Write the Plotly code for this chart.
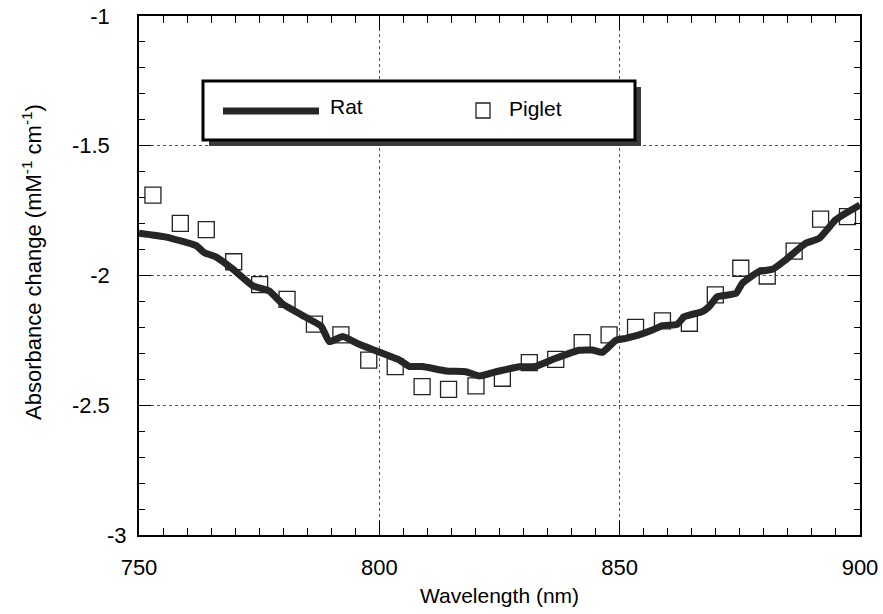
import plotly.graph_objects as go

# Rat (solid thick curve)
rat_wl = [750, 755.7, 761.9, 763.6, 766, 769.5, 773.7, 777.1, 779.9, 784.8, 787.9, 789.6,
          792.4, 795.8, 799.3, 804.2, 806.2, 809, 813.9, 818, 820.8, 824.3, 829.1, 832.6,
          836.7, 841.6, 844.3, 846.4, 849.2, 851.3, 854, 856.8, 858.9, 862, 863.4, 867.2,
          868.6, 870.3, 874.2, 875.5, 879, 881.8, 884.5, 888.7, 891.5, 894.9, 897, 900]
rat_val = [-1.837, -1.852, -1.885, -1.912, -1.928, -1.975, -2.040, -2.060, -2.110, -2.162,
           -2.195, -2.255, -2.235, -2.265, -2.290, -2.326, -2.350, -2.351, -2.368, -2.371,
           -2.387, -2.371, -2.352, -2.350, -2.319, -2.288, -2.287, -2.296, -2.250, -2.242,
           -2.229, -2.210, -2.193, -2.188, -2.159, -2.139, -2.120, -2.082, -2.069, -2.030,
           -1.985, -1.976, -1.940, -1.876, -1.857, -1.786, -1.760, -1.728]

# Piglet (open squares)
piglet_wl = [752.9, 758.6, 764.0, 769.7, 775.1, 780.8, 786.5, 792.0, 797.8, 803.3, 808.9,
             814.4, 820.1, 825.6, 831.2, 836.7, 842.2, 847.8, 853.3, 858.9, 864.5, 869.9,
             875.2, 880.7, 886.3, 891.8, 897.4]
piglet_val = [-1.690, -1.799, -1.823, -1.947, -2.035, -2.092, -2.187, -2.229, -2.326, -2.351,
              -2.428, -2.439, -2.425, -2.396, -2.336, -2.323, -2.259, -2.229, -2.200, -2.175,
              -2.184, -2.075, -1.972, -2.002, -1.906, -1.783, -1.773]

x_tick_vals = [750, 800, 850, 900]
x_tick_text = ["750", "800", "850", "900"]
y_tick_vals = [-3, -2.5, -2, -1.5, -1]
y_tick_text = ["-3", "-2.5", "-2", "-1.5", "-1"]

FONT = "Liberation Sans, Arial, sans-serif"

fig = go.Figure()
fig.add_trace(go.Scatter(x=piglet_wl, y=piglet_val, mode="markers", name="Piglet",
                         marker=dict(symbol="square-open", size=16, color="#222",
                                     line=dict(width=1.3, color="#222"))))
fig.add_trace(go.Scatter(x=rat_wl, y=rat_val, mode="lines", name="Rat",
                         line=dict(color="#262626", width=7, shape="spline", smoothing=0.4)))

W, H = 883, 614
L, R, T, B = 139, 23, 16, 79
pw, ph = W - L - R, H - T - B


def px(x):
    return (x - L) / pw


def py(y):
    return (H - B - y) / ph


# Custom legend box with drop shadow
bx0, bx1, by0, by1 = 203, 635, 81, 140
sh = 6
fig.add_shape(type="rect", xref="paper", yref="paper",
              x0=px(bx0 + sh), x1=px(bx1 + sh), y0=py(by1 + sh), y1=py(by0 + sh),
              fillcolor="#3a3a3a", line=dict(width=0), layer="above")
fig.add_shape(type="rect", xref="paper", yref="paper",
              x0=px(bx0), x1=px(bx1), y0=py(by1), y1=py(by0),
              fillcolor="white", line=dict(color="black", width=3), layer="above")
fig.add_shape(type="line", xref="paper", yref="paper",
              x0=px(223), x1=px(319), y0=py(111), y1=py(111),
              line=dict(color="#262626", width=7), layer="above")
fig.add_shape(type="rect", xref="paper", yref="paper",
              x0=px(476), x1=px(490), y0=py(118), y1=py(103),
              line=dict(color="#222", width=1.3), fillcolor="white", layer="above")
fig.add_annotation(xref="paper", yref="paper", x=px(328), y=py(106), text="Rat",
                   showarrow=False, xanchor="left", yanchor="middle",
                   font=dict(family=FONT, size=21, color="black"))
fig.add_annotation(xref="paper", yref="paper", x=px(507), y=py(109), text="Piglet",
                   showarrow=False, xanchor="left", yanchor="middle",
                   font=dict(family=FONT, size=21, color="black"))

# Y axis title placed like the reference (slightly above the plot's centre)
fig.add_annotation(xref="paper", yref="paper", x=px(32), y=py(262),
                   text="Absorbance change (mM<sup>-1</sup> cm<sup>-1</sup>)", textangle=-90,
                   showarrow=False, xanchor="center", yanchor="middle",
                   font=dict(family=FONT, size=22, color="black"))

# The bottom y label sits further right in the reference: draw it as its own text
y_axis_text = ["" if v == -3 else t for v, t in zip(y_tick_vals, y_tick_text)]
fig.add_annotation(xref="paper", yref="y", x=px(129), y=y_tick_vals[0],
                   text=y_tick_text[0], showarrow=False, xanchor="right", yanchor="middle",
                   font=dict(family=FONT, size=22, color="black"))

axis_common = dict(showline=True, linecolor="black", linewidth=1.5, mirror="allticks",
                   ticks="inside", tickcolor="black", tickwidth=1,
                   showgrid=True, gridcolor="#555", griddash="dot", gridwidth=1,
                   zeroline=False, tickfont=dict(family=FONT, size=22, color="black"))

fig.update_xaxes(range=[750, 900], tickmode="array", tickvals=x_tick_vals, ticktext=x_tick_text,
                 ticklen=14, ticklabelstandoff=12,
                 minor=dict(dtick=5, ticks="inside", ticklen=7, tickcolor="black", showgrid=False),
                 title=dict(text="Wavelength (nm)", standoff=9,
                            font=dict(family=FONT, size=21, color="black")),
                 **axis_common)
fig.update_yaxes(range=[-3, -1], tickmode="array", tickvals=y_tick_vals, ticktext=y_axis_text,
                 ticklen=12, ticklabelstandoff=23,
                 minor=dict(dtick=0.1, ticks="inside", ticklen=6, tickcolor="black", showgrid=False),
                 **axis_common)

fig.update_layout(width=W, height=H, margin=dict(l=L, r=R, t=T, b=B, autoexpand=False),
                  paper_bgcolor="white", plot_bgcolor="white", showlegend=False)

fig.write_html("out.html", config={"displayModeBar": False},
               post_script="document.body.style.margin='0';document.body.style.overflow='hidden';")
